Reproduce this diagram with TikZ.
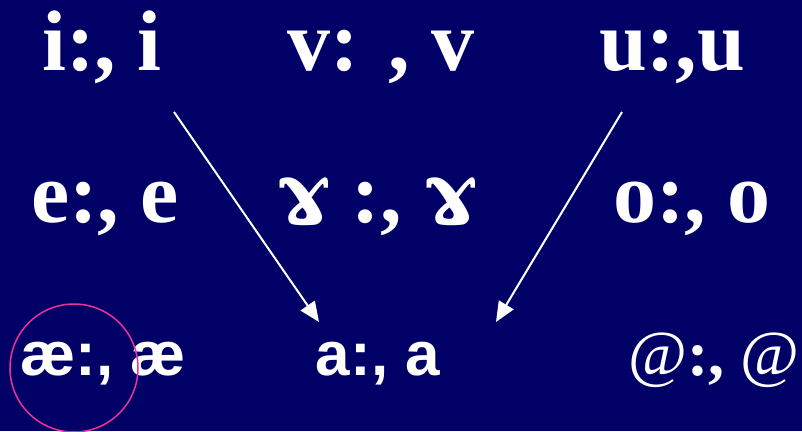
\documentclass[tikz,border=0pt]{standalone}
\usepackage{fontspec}
\setmainfont{Liberation Serif}
\setsansfont{Liberation Sans}
\newfontfamily\ramshorn{DejaVu Serif}
\usepackage{tikz}
\usetikzlibrary{arrows.meta,positioning}
\definecolor{slidebg}{RGB}{0,0,102}
\definecolor{ringpink}{RGB}{236,50,150}
\newcommand{\gam}{{\ramshorn ɤ}}

\begin{document}
\begin{tikzpicture}[
  x=1pt, y=-1pt,
  vowel/.style={text=white, anchor=base, inner sep=0pt,
    font=\bfseries\fontsize{86}{90}\selectfont},
  vowelsans/.style={text=white, anchor=base, inner sep=0pt,
    font=\sffamily\bfseries\fontsize{62}{66}\selectfont},
  vowelat/.style={text=white, anchor=base, inner sep=0pt,
    font=\bfseries\fontsize{64}{68}\selectfont},
  arr/.style={-{Triangle[length=20pt, width=17pt]}, draw=white, fill=white, line width=2pt},
  ring/.style={draw=ringpink, line width=1.5pt}
]
\fill[slidebg] (0,0) rectangle (802,431);
\useasboundingbox (0,0) rectangle (802,431);

% top row
\node[vowel] (iRow) at (102,70) {i:, i};
\node[vowel] (vRow) at (381,70) {v: , v};
\node[vowel] (uRow) at (672,70) {u:,u};
% middle row
\node[vowel] (eRow) at (105,222) {e:, e};
\node[vowel] (gRow) at (377,222) {\gam\ :, \gam};
\node[vowel] (oRow) at (692,222) {o:, o};
% bottom row
\node[vowelsans] (aeRow) at (103,375) {æ:, æ};
\node[vowelsans] (aRow) at (378,375) {a:, a};
\node[vowelat] (atRow) at (714,375) {{\mdseries @}:, {\mdseries @}};

\coordinate (iFoot) at (174,112);
\coordinate (uFoot) at (622,112);
\coordinate (aLeft) at (319,322);
\coordinate (aRight) at (496,322);
\draw[arr] (iFoot) -- (aLeft);
\draw[arr] (uFoot) -- (aRight);

\draw[ring] (74,368) circle (64);
\end{tikzpicture}
\end{document}
